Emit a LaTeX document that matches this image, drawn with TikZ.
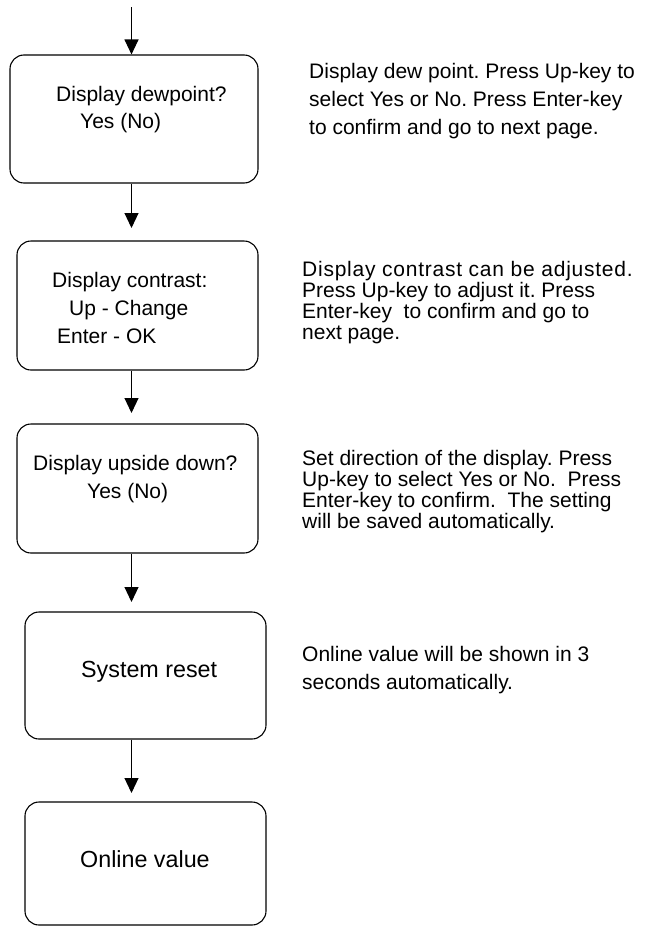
\documentclass[tikz,border=0pt]{standalone}
\usepackage{fontspec}
\setmainfont{Liberation Sans}
\usetikzlibrary{arrows.meta}
\tikzset{
  flowbox/.style={draw, line width=1.1pt, rounded corners=14pt, inner sep=0pt},
  lbl/.style={font=\fontsize{21}{27}\selectfont\frenchspacing, inner sep=0pt, anchor=base west},
  biglbl/.style={lbl, font=\fontsize{23.3}{27}\selectfont\frenchspacing},
  notewide/.style={lbl, align=left, font=\fontsize{21}{28}\selectfont\frenchspacing},
  notetight/.style={lbl, align=left, font=\fontsize{21}{20.9}\selectfont\frenchspacing},
  flow/.style={line width=1.1pt, -{Triangle[length=15pt,width=14pt]}}
}
\begin{document}
\begin{tikzpicture}[x=1pt,y=-1pt]
\useasboundingbox (0,0) rectangle (646,926);
% boxes
\node[flowbox, minimum width=248pt, minimum height=128pt] (b1) at (134,119) {};
\node[flowbox, minimum width=241pt, minimum height=129pt] (b2) at (137.5,305.5) {};
\node[flowbox, minimum width=241pt, minimum height=129pt] (b3) at (137.5,488.5) {};
\node[flowbox, minimum width=241pt, minimum height=127pt] (b4) at (145.5,675.5) {};
\node[flowbox, minimum width=241pt, minimum height=123pt] (b5) at (145.5,863.5) {};
% box texts
\node[lbl] (b1a) at (56,101) {Display dewpoint?};
\node[lbl] (b1b) at (80,128) {Yes (No)};
\node[lbl] (b2a) at (52,287) {Display contrast:};
\node[lbl] (b2b) at (69,315) {Up - Change};
\node[lbl] (b2c) at (57,343) {Enter - OK};
\node[lbl] (b3a) at (33,470) {Display upside down?};
\node[lbl] (b3b) at (87,498) {Yes (No)};
\node[biglbl] (b4a) at (81,677) {System reset};
\node[biglbl] (b5a) at (80,867) {Online value};
% notes (anchored at the baseline of their last line)
\node[notewide] (n1) at (309,134) {Display dew point. Press Up-key to\\select Yes or No. Press Enter-key\\to confirm and go to next page.};
\node[notetight] (n2) at (302,339) {{\addfontfeatures{LetterSpace=3.6}Display contrast can be adjusted.}\\Press Up-key to adjust it. Press\\Enter-key\ \ to confirm and go to\\next page.};
\node[notetight] (n3) at (302,528) {Set direction of the display. Press\\Up-key to select Yes or No.\ \ Press\\Enter-key to confirm.\ \ The setting\\will be saved automatically.};
\node[notewide] (n4) at (302,689) {Online value will be shown in 3\\seconds automatically.};
% connectors
\coordinate (s0) at (131.5,7);
\coordinate (t2) at (131.5,228);
\coordinate (t3) at (131.5,413);
\coordinate (t4) at (131.5,602);
\coordinate (t5) at (131.5,793);
\draw[flow] (s0) -- (s0 |- b1.north);
\draw[flow] (t2 |- b1.south) -- (t2);
\draw[flow] (t3 |- b2.south) -- (t3);
\draw[flow] (t4 |- b3.south) -- (t4);
\draw[flow] (t5 |- b4.south) -- (t5);
\end{tikzpicture}
\end{document}
